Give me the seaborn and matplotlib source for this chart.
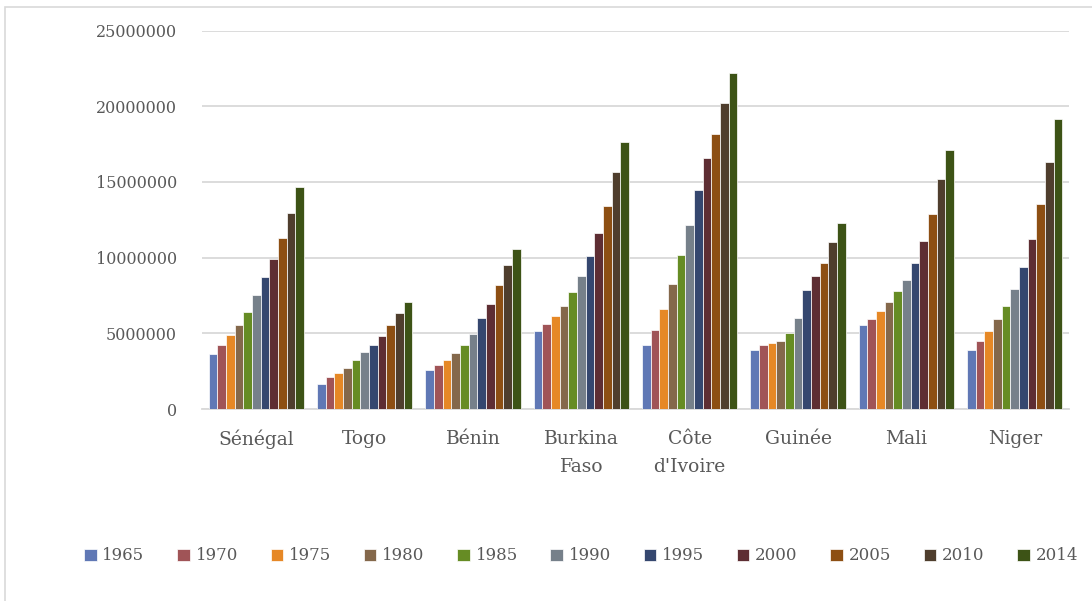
import pandas as pd
import seaborn as sns
import matplotlib.pyplot as plt
from matplotlib.patches import Rectangle

# Population par pays et par année
pays = ["Sénégal", "Togo", "Bénin", "Burkina\nFaso", "Côte\nd'Ivoire", "Guinée", "Mali", "Niger"]
annees = ["1965", "1970", "1975", "1980", "1985", "1990", "1995", "2000", "2005", "2010", "2014"]

senegal = [3610000, 4210000, 4870000, 5550000, 6390000, 7510000, 8700000, 9890000, 11270000, 12950000, 14680000]
togo = [1670000, 2090000, 2380000, 2690000, 3240000, 3740000, 4250000, 4840000, 5550000, 6360000, 7070000]
benin = [2600000, 2910000, 3240000, 3700000, 4250000, 4970000, 5990000, 6960000, 8170000, 9490000, 10590000]
burkina = [5130000, 5610000, 6140000, 6780000, 7710000, 8800000, 10080000, 11600000, 13430000, 15650000, 17610000]
cote_ivoire = [4210000, 5220000, 6580000, 8260000, 10170000, 12150000, 14440000, 16560000, 18160000, 20190000, 22210000]
guinee = [3870000, 4210000, 4340000, 4470000, 5040000, 6030000, 7860000, 8760000, 9660000, 11010000, 12260000]
mali = [5550000, 5940000, 6450000, 7090000, 7810000, 8500000, 9640000, 11070000, 12880000, 15210000, 17110000]
niger = [3900000, 4470000, 5130000, 5940000, 6820000, 7900000, 9380000, 11230000, 13520000, 16290000, 19130000]

couleurs = ["#6078B5", "#A05457", "#E68826", "#84684B", "#668C24", "#76808A",
            "#35476F", "#5E2E33", "#8D4F13", "#4F3E2D", "#3D5316"]

series = [senegal, togo, benin, burkina, cote_ivoire, guinee, mali, niger]
rows = []
for p, vals in zip(pays, series):
    for a, v in zip(annees, vals):
        rows.append({"Pays": p, "Annee": a, "Population": v})
df = pd.DataFrame(rows)

sns.set_theme(style="white")
plt.rcParams['font.family'] = ['DejaVu Serif']
txt_color = "#595959"
grid_color = "#D9D9D9"

fig = plt.figure(figsize=(10.92, 6.01), dpi=100)
ax = fig.add_axes([202/1092, 1 - 409/601, 867/1092, 378.5/601])

sns.barplot(data=df, x="Pays", y="Population", hue="Annee", order=pays, hue_order=annees,
            palette=couleurs, saturation=1, width=0.88, edgecolor="white", linewidth=0.5,
            errorbar=None, ax=ax, zorder=3)

ax.set_ylim(0, 25000000)
ax.set_yticks(range(0, 25000001, 5000000))
ax.set_yticklabels([str(v) for v in range(0, 25000001, 5000000)])
ax.set_xlim(-0.5, len(pays) - 0.5)
ax.set_xlabel("")
ax.set_ylabel("")
ax.yaxis.grid(True, color=grid_color, linewidth=1.3, zorder=0)
ax.set_axisbelow(True)
for s in ["top", "right", "left"]:
    ax.spines[s].set_visible(False)
ax.spines["bottom"].set_color(grid_color)
ax.spines["bottom"].set_linewidth(1.3)
ax.tick_params(axis="y", length=0, pad=18, labelsize=11.5, labelcolor=txt_color)
ax.tick_params(axis="x", length=0, pad=15, labelsize=13.5, labelcolor=txt_color)
for lbl in ax.get_xticklabels():
    lbl.set_linespacing(1.75)

ax.legend_.remove()
handles = [Rectangle((0, 0), 1, 1, facecolor=c, edgecolor="white", linewidth=0.5) for c in couleurs]
leg = fig.legend(handles, annees, loc="center left", bbox_to_anchor=(84/1092, 1 - 556/601),
                 ncol=11, frameon=False, fontsize=12, handlelength=0.75, handleheight=0.75,
                 handletextpad=0.35, columnspacing=1.96, borderpad=0, borderaxespad=0)
for t in leg.get_texts():
    t.set_color(txt_color)

# cadre du graphique
fig.patches.append(Rectangle((5/1092, -0.05), 1.1, 1 - 7/601 + 0.05, transform=fig.transFigure,
                             fill=False, edgecolor=grid_color, linewidth=1.2))

plt.savefig("out.png", dpi=100)
